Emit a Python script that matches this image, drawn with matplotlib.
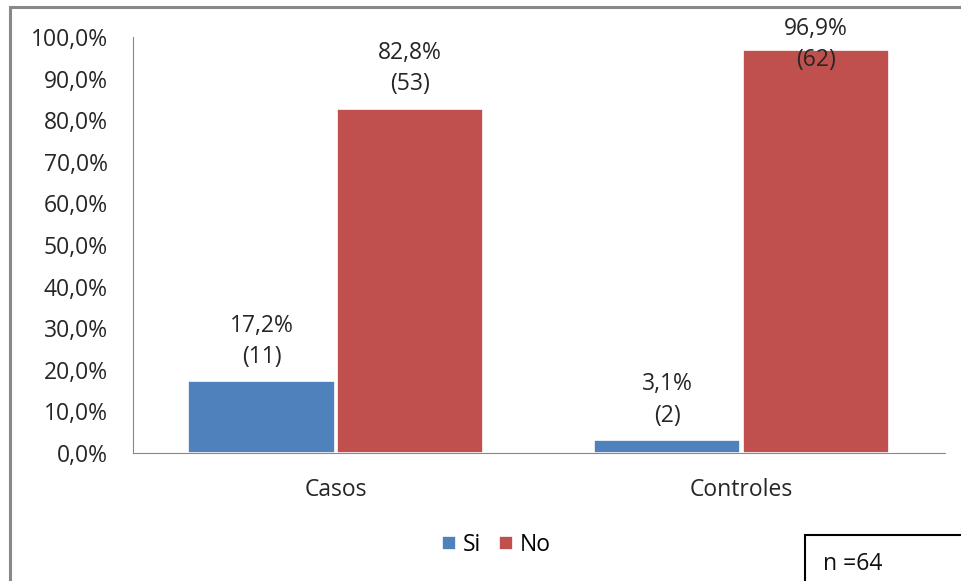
import numpy as np
import matplotlib.pyplot as plt
from matplotlib.patches import Rectangle

# Datos: porcentaje y número de casos por grupo
grupos = ['Casos', 'Controles']
si_pct = [17.2, 3.1]
no_pct = [82.8, 96.9]
si_n = [11, 2]
no_n = [53, 62]
ticks = np.arange(0, 101, 10)
tick_labels = ['%.1f%%' % t for t in ticks]
tick_labels = [t.replace('.', ',') for t in tick_labels]

azul = '#4F81BD'
rojo = '#C0504D'
texto = '#262626'
fs = 16.5

plt.rcParams['font.family'] = ['Open Sans', 'DejaVu Sans']

fig = plt.figure(figsize=(9.62, 5.81), dpi=100)
ax = fig.add_axes([0.138, 0.2203, 0.844, 0.716])

x = np.arange(len(grupos))
ancho = 0.36
b1 = ax.bar(x - ancho / 2 - 0.003, si_pct, ancho, color=azul, edgecolor='white', linewidth=1.2, label='Si')
b2 = ax.bar(x + ancho / 2 + 0.003, no_pct, ancho, color=rojo, edgecolor='white', linewidth=1.2, label='No')

# etiquetas: porcentaje y (n); se limitan al borde superior del gráfico
for barras, pcts, ns in [(b1, si_pct, si_n), (b2, no_pct, no_n)]:
    for b, p, n in zip(barras, pcts, ns):
        y = min(p + 3.0, 91.5)
        ax.text(b.get_x() + b.get_width() / 2, y,
                ('%.1f%%' % p).replace('.', ',') + '\n(%d)' % n,
                ha='center', va='bottom', fontsize=fs, color=texto,
                linespacing=1.4)

ax.set_xlim(-0.5, 1.5)
ax.set_ylim(0, 100)
ax.set_yticks(ticks)
ax.set_yticklabels(tick_labels)
ax.set_xticks(x)
ax.set_xticklabels(grupos)
ax.tick_params(axis='both', labelsize=fs, colors=texto, length=0)
ax.tick_params(axis='x', pad=18)
ax.tick_params(axis='y', pad=18)
for lado in ['top', 'right']:
    ax.spines[lado].set_visible(False)
ax.spines['left'].set_color('#888888')
ax.spines['bottom'].set_color('#888888')

leg = fig.legend(handles=[b1, b2], labels=['Si', 'No'], loc='center',
                 bbox_to_anchor=(0.516, 0.062), ncol=2, frameon=False,
                 fontsize=fs, handlelength=0.6, handleheight=0.6,
                 handletextpad=0.3, columnspacing=0.8)

# marco exterior del gráfico
fig.patches.append(Rectangle((0.0105, -0.05), 1.1, 1.038, transform=fig.transFigure,
                             fill=False, edgecolor='#888888', linewidth=2.2))

# recuadro con el tamaño de muestra
fig.patches.append(Rectangle((0.837, -0.05), 0.3, 0.129, transform=fig.transFigure,
                             fill=True, facecolor='white', edgecolor='black', linewidth=1.5))
fig.text(0.856, 0.03, 'n =64', fontsize=fs, color='#111111', va='center', ha='left')

fig.savefig('out.png', dpi=100)
